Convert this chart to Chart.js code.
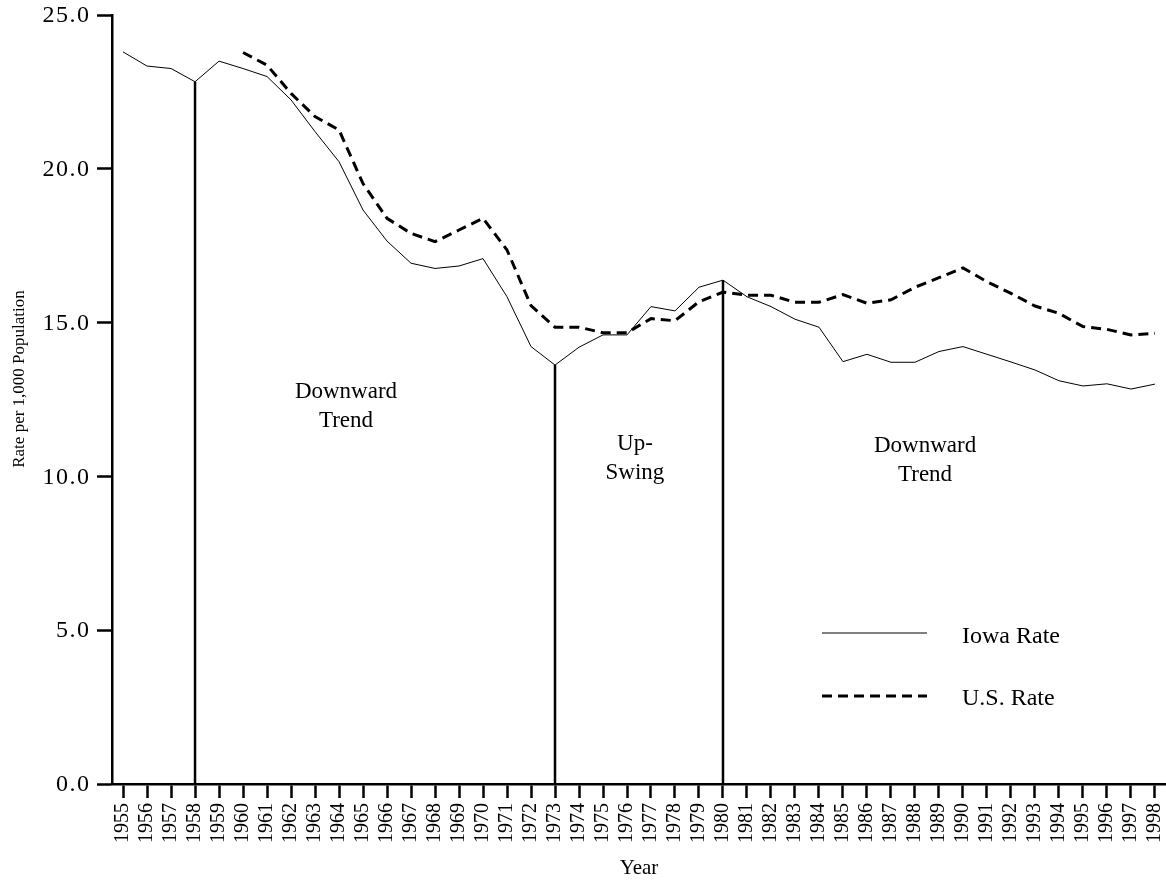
<!DOCTYPE html>
<html>
<head>
<meta charset="utf-8">
<script src="https://cdn.jsdelivr.net/npm/chart.js@4/dist/chart.umd.min.js"></script>
<style>
  html, body { margin: 0; padding: 0; background: #fff; }
  #wrap { width: 1166px; height: 881px; position: relative; }
</style>
</head>
<body>
<div id="wrap"><canvas id="rateChart"></canvas></div>
<script>
// years on the x axis
const years = [];
for (let y = 1955; y <= 1998; y++) years.push(y);

// Iowa rate per 1,000 population, 1955-1998
const iowaRate = [23.8, 23.34, 23.26, 22.83, 23.5, 23.26, 23.0, 22.24, 21.21, 20.23,
  18.66, 17.65, 16.93, 16.76, 16.84, 17.08, 15.84, 14.22, 13.62, 14.2,
  14.6, 14.6, 15.52, 15.38, 16.15, 16.38, 15.84, 15.52, 15.11, 14.85,
  13.73, 13.97, 13.71, 13.71, 14.06, 14.22, 13.97, 13.72, 13.46, 13.11,
  12.94, 13.01, 12.84, 13.0];

// U.S. rate per 1,000 population, 1960-1998
const usYears = years.filter(y => y >= 1960);
const usRate = [23.78, 23.37, 22.45, 21.7, 21.26, 19.52, 18.39, 17.9, 17.63, 18.01,
  18.39, 17.36, 15.55, 14.85, 14.85, 14.67, 14.67, 15.13, 15.06, 15.68,
  15.99, 15.89, 15.89, 15.66, 15.66, 15.91, 15.63, 15.74, 16.15, 16.46,
  16.78, 16.33, 15.95, 15.54, 15.3, 14.87, 14.78, 14.6, 14.65];

// y axis tick values
const yTicks = [0, 5, 10, 15, 20, 25];

// period break years (vertical markers)
const breakYears = [1958, 1973, 1980];

// period labels: [text lines, year, rate of first line]
const periodLabels = [
  [['Downward', 'Trend'], 1964.29, 12.74],
  [['Up-', 'Swing'], 1976.33, 11.05],
  [['Downward', 'Trend'], 1988.42, 10.99]
];

const serif = '"Liberation Serif", "Times New Roman", serif';

const datasets = [
  {
    label: 'Iowa Rate',
    data: years.map((y, i) => ({ x: y, y: iowaRate[i] })),
    borderColor: '#000', borderWidth: 1, pointRadius: 0, tension: 0
  },
  {
    label: 'U.S. Rate',
    data: usYears.map((y, i) => ({ x: y, y: usRate[i] })),
    borderColor: '#000', borderWidth: 3, borderDash: [10, 6], pointRadius: 0, tension: 0
  }
];

// vertical lines from the axis up to the Iowa value
breakYears.forEach(b => {
  const v = iowaRate[years.indexOf(b)];
  datasets.push({
    label: 'break ' + b,
    data: [{ x: b, y: 0 }, { x: b, y: v }],
    borderColor: '#000', borderWidth: 2.5, pointRadius: 0
  });
});

// y tick labels, y title, text annotations and legend
const notesPlugin = {
  id: 'notes',
  afterDraw(chart) {
    const ctx = chart.ctx;
    const xs = chart.scales.x, ys = chart.scales.y;
    ctx.save();
    ctx.fillStyle = '#000';

    // y tick labels
    ctx.font = '24px ' + serif;
    ctx.letterSpacing = '1.5px';
    ctx.textAlign = 'right';
    ctx.textBaseline = 'middle';
    ys.ticks.forEach(t => {
      ctx.fillText(t.value.toFixed(1), xs.left - 23 + 1.5, ys.getPixelForValue(t.value) + 1);
    });
    ctx.letterSpacing = '0px';

    // y title
    ctx.save();
    ctx.translate(20, 379);
    ctx.rotate(-Math.PI / 2);
    ctx.font = '17px ' + serif;
    ctx.textAlign = 'center';
    ctx.fillText('Rate per 1,000 Population', 0, 0);
    ctx.restore();

    // period annotations
    const lineGap = ys.getPixelForValue(0) - ys.getPixelForValue(0.94);
    ctx.font = '23px ' + serif;
    ctx.textAlign = 'center';
    periodLabels.forEach(([lines, x, y]) => {
      const px = xs.getPixelForValue(x);
      const py = ys.getPixelForValue(y);
      lines.forEach((t, i) => ctx.fillText(t, px, py + i * lineGap));
    });

    // legend
    const lx = chart.chartArea.left + 710, ly = 633;
    ctx.strokeStyle = '#000';
    ctx.lineWidth = 1;
    ctx.beginPath(); ctx.moveTo(lx, ly); ctx.lineTo(lx + 105, ly); ctx.stroke();
    ctx.lineWidth = 3;
    ctx.setLineDash([10, 6]);
    ctx.beginPath(); ctx.moveTo(lx, ly + 63); ctx.lineTo(lx + 105, ly + 63); ctx.stroke();
    ctx.setLineDash([]);
    ctx.font = '24px ' + serif;
    ctx.textAlign = 'left';
    ctx.fillText('Iowa Rate', lx + 140, ly + 4);
    ctx.fillText('U.S. Rate', lx + 140, ly + 66);
    ctx.restore();
  }
};

new Chart(document.getElementById('rateChart'), {
  type: 'line',
  data: { datasets },
  plugins: [notesPlugin],
  options: {
    responsive: true,
    maintainAspectRatio: false,
    animation: false,
    layout: { padding: { top: 15, right: 0, left: 0, bottom: 0 } },
    plugins: { legend: { display: false }, tooltip: { enabled: false } },
    scales: {
      x: {
        type: 'linear',
        min: 1954.54,
        max: 1998.46,
        afterFit(scale) { scale.height = 97; scale.paddingLeft = 0; scale.paddingRight = 0; },
        afterBuildTicks(scale) { scale.ticks = years.map(v => ({ value: v })); },
        grid: { drawOnChartArea: false, drawTicks: true, tickLength: 14, color: '#000', tickWidth: 2.5 },
        border: { display: true, color: '#000', width: 2.5 },
        ticks: {
          autoSkip: false, minRotation: 90, maxRotation: 90, padding: 5,
          color: '#000', font: { family: serif, size: 20 },
          callback: v => String(v)
        },
        title: { display: true, text: 'Year', color: '#000', font: { family: serif, size: 21 }, padding: { top: 4, bottom: 0 } }
      },
      y: {
        min: 0,
        max: 25,
        afterFit(scale) { scale.width = 112; scale.paddingTop = 0; scale.paddingBottom = 0; },
        afterBuildTicks(scale) { scale.ticks = yTicks.map(v => ({ value: v })); },
        grid: { drawOnChartArea: false, drawTicks: true, tickLength: 15, color: '#000', tickWidth: 2.5 },
        border: { display: true, color: '#000', width: 2.5 },
        ticks: { display: false },
        title: { display: false }
      }
    }
  }
});
</script>
</body>
</html>
